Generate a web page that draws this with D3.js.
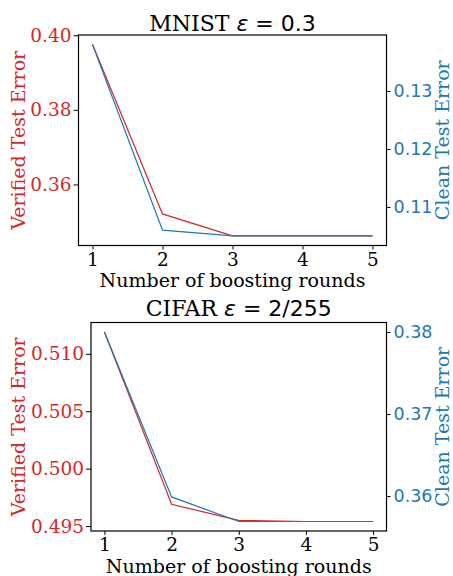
<!DOCTYPE html>
<html>
<head>
<meta charset="utf-8">
<script src="https://cdn.jsdelivr.net/npm/d3@7"></script>
<style>
  body { margin: 0; background: #fff; }
  svg { display: block; }
  .serif { font-family: "DejaVu Serif", serif; }
  .sans { font-family: "DejaVu Sans", sans-serif; }
</style>
</head>
<body>
<div id="chart-area"></div>
<script>
// DATA
let rounds = [1, 2, 3, 4, 5];

let mnistVerified = [0.3975, 0.3521, 0.3462, 0.3462, 0.3462];
let mnistClean = [0.1380, 0.1060, 0.1050, 0.1050, 0.1050];
let mnistLeftTicks = [0.36, 0.38, 0.40];
let mnistRightTicks = [0.11, 0.12, 0.13];

let cifarVerified = [0.5119, 0.4969, 0.4955, 0.4954, 0.4954];
let cifarClean = [0.3800, 0.3599, 0.3569, 0.3569, 0.3569];
let cifarLeftTicks = [0.495, 0.500, 0.505, 0.510];
let cifarRightTicks = [0.36, 0.37, 0.38];

let red = "#d62728",
  blue = "#1f77b4";

let svg = d3
  .select("#chart-area")
  .append("svg")
  .attr("width", 453)
  .attr("height", 576);

// pad extent by 5% like matplotlib autoscale
function padded(values) {
  let ext = d3.extent(values);
  let m = (ext[1] - ext[0]) * 0.05;
  return [ext[0] - m, ext[1] + m];
}

function drawPanel(p) {
  let width = p.right - p.left,
    height = p.bottom - p.top;

  let g = svg
    .append("g")
    .attr("transform", "translate(" + p.left + "," + p.top + ")");

  let x = d3.scaleLinear().domain(padded(rounds)).range([0, width]);
  let yL = d3.scaleLinear().domain(padded(p.verified)).range([height, 0]);
  let yR = d3.scaleLinear().domain(padded(p.clean)).range([height, 0]);

  let xAxis = d3.axisBottom(x).tickValues(rounds).tickFormat(d3.format("d")).tickSize(4).tickPadding(3);
  let yAxisL = d3.axisLeft(yL).tickValues(p.leftTicks).tickFormat(d3.format(p.leftFmt)).tickSize(5).tickPadding(2);
  let yAxisR = d3.axisRight(yR).tickValues(p.rightTicks).tickFormat(d3.format(".2f")).tickSize(4).tickPadding(3);

  let xg = g.append("g").attr("transform", "translate(0," + height + ")").call(xAxis);
  xg.selectAll("text").attr("class", "serif").style("font-size", "18.5px").attr("fill", "#000");

  let lg = g.append("g").call(yAxisL);
  lg.selectAll("text").attr("class", "serif").style("font-size", "18.5px").attr("fill", red);

  let rg = g.append("g").attr("transform", "translate(" + width + ",0)").call(yAxisR);
  rg.selectAll("text").attr("class", "sans").style("font-size", "17.5px").attr("fill", blue);

  g.selectAll(".domain").remove();
  g.selectAll(".tick line").attr("stroke", "#000").attr("stroke-width", 1);

  // lines
  let lineL = d3.line().x(function(d, i) { return x(rounds[i]); }).y(function(d) { return yL(d); });
  let lineR = d3.line().x(function(d, i) { return x(rounds[i]); }).y(function(d) { return yR(d); });

  g.append("path")
    .datum(p.verified)
    .attr("d", lineL)
    .attr("fill", "none")
    .attr("stroke", red)
    .attr("stroke-width", 1.2);

  g.append("path")
    .datum(p.clean)
    .attr("d", lineR)
    .attr("fill", "none")
    .attr("stroke", blue)
    .attr("stroke-width", 1.2);

  // frame
  g.append("rect")
    .attr("width", width)
    .attr("height", height)
    .attr("fill", "none")
    .attr("stroke", "#000")
    .attr("stroke-width", 1.2);

  // title
  let t = svg
    .append("text")
    .attr("x", (p.left + p.right) / 2)
    .attr("y", p.titleY)
    .attr("text-anchor", "middle")
    .style("font-size", "22px")
    .attr("fill", "#000");
  t.append("tspan").attr("class", "serif").text(p.name + " ");
  t.append("tspan").attr("class", "sans").style("font-style", "italic").text("ε");
  t.append("tspan").attr("class", "sans").text(" = " + p.eps);

  // x label
  svg
    .append("text")
    .attr("class", "serif")
    .attr("x", (p.left + p.right) / 2)
    .attr("y", p.xlabelY)
    .attr("text-anchor", "middle")
    .style("font-size", "19px")
    .text("Number of boosting rounds");

  let cy = (p.top + p.bottom) / 2;
  svg
    .append("text")
    .attr("class", "serif")
    .attr("transform", "translate(25," + cy + ") rotate(-90)")
    .attr("text-anchor", "middle")
    .style("font-size", "19px")
    .attr("fill", red)
    .text("Verified Test Error");

  svg
    .append("text")
    .attr("class", "serif")
    .attr("transform", "translate(449," + cy + ") rotate(-90)")
    .attr("text-anchor", "middle")
    .style("font-size", "19px")
    .attr("fill", blue)
    .text("Clean Test Error");
}

drawPanel({
  name: "MNIST", eps: "0.3",
  verified: mnistVerified, clean: mnistClean,
  leftTicks: mnistLeftTicks, rightTicks: mnistRightTicks, leftFmt: ".2f",
  left: 78.5, right: 386.5, top: 35, bottom: 245.5,
  titleY: 31, xlabelY: 287
});

drawPanel({
  name: "CIFAR", eps: "2/255",
  verified: cifarVerified, clean: cifarClean,
  leftTicks: cifarLeftTicks, rightTicks: cifarRightTicks, leftFmt: ".3f",
  left: 91, right: 386.5, top: 322.5, bottom: 531,
  titleY: 316, xlabelY: 572.5
});
</script>
</body>
</html>
